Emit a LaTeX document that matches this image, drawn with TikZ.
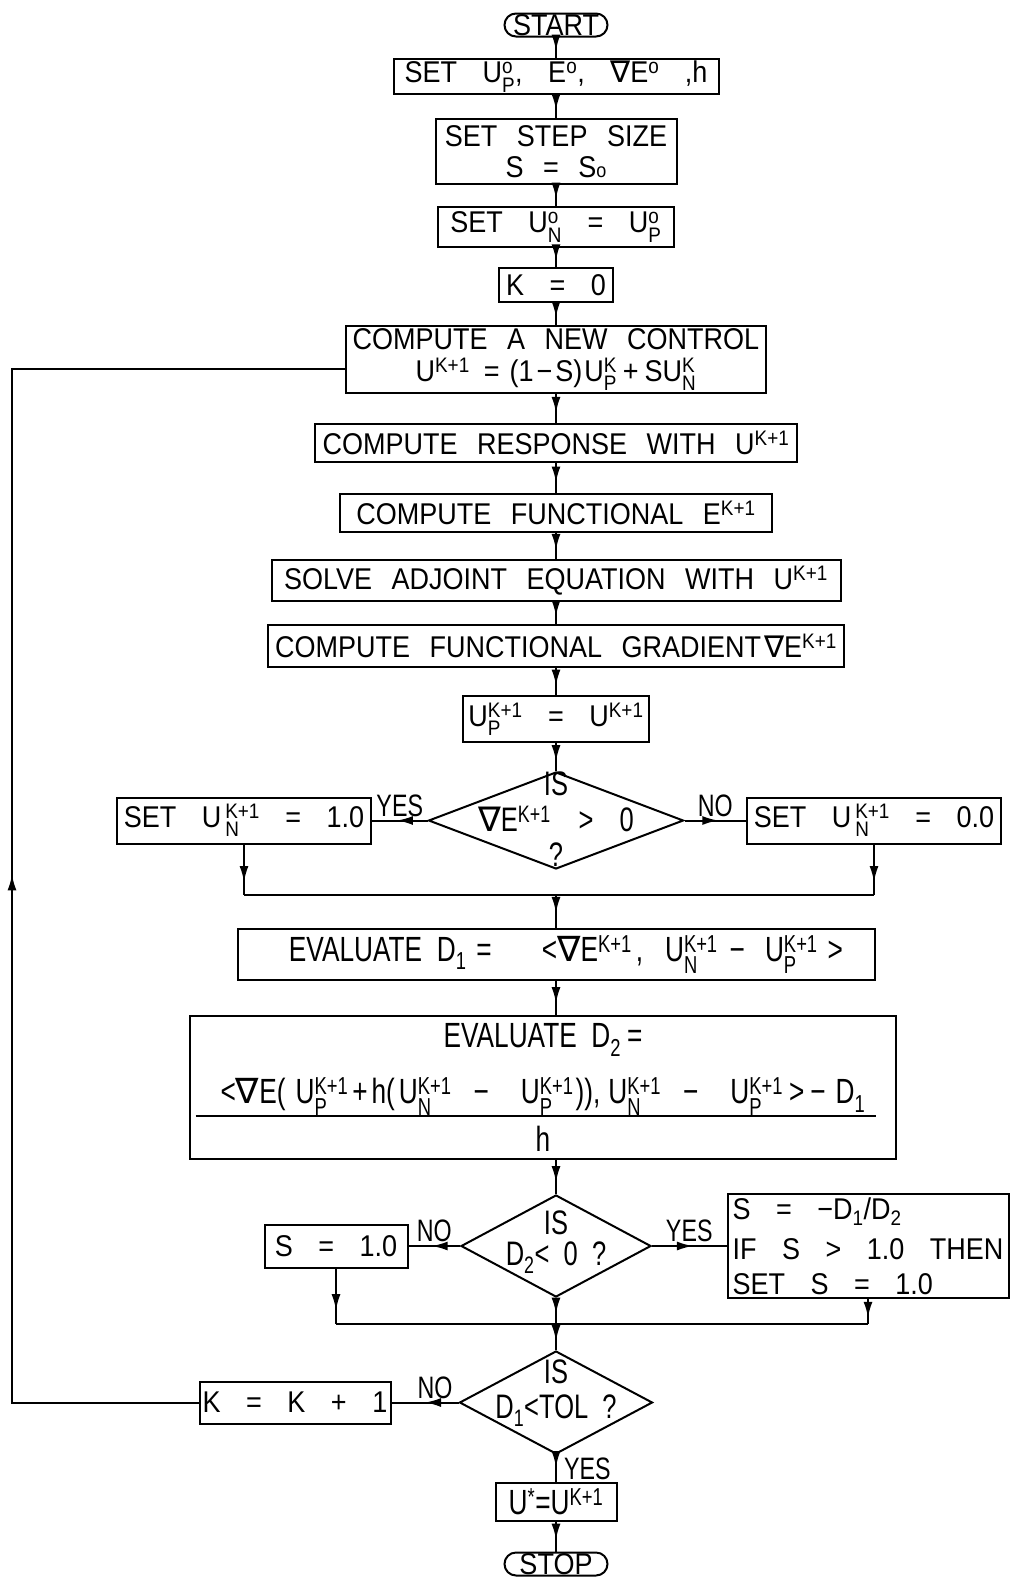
\documentclass[tikz,border=0pt]{standalone}
\usepackage{amsmath}
\usepackage{fontspec}
\setmainfont{Liberation Sans}[FakeStretch=0.9, WordSpace=2.6]
\newfontfamily\widefont{Liberation Sans}[FakeStretch=0.9, WordSpace=3.4]
\newfontfamily\narrowfont{Liberation Sans}[FakeStretch=0.75, WordSpace=2.0]
\newfontfamily\symfont{DejaVu Sans}
\usepackage{tikz}
\usetikzlibrary{shapes.geometric, arrows.meta, decorations.markings}

\newcommand{\sx}[2]{$^{\text{#2}}_{\text{#1}}$}
\newcommand{\supx}[1]{$^{\text{#1}}$}
\newcommand{\subx}[1]{$_{\text{#1}}$}
\newcommand{\nab}{{\symfont ∇}}
\newcommand{\mns}{−}
\newcommand{\dtext}[2][-10pt]{\smash{\raisebox{#1}{\makebox[0pt]{\begin{tabular}{@{}c@{}}#2\end{tabular}}}}}

\begin{document}
\begin{tikzpicture}[line width=2pt, node distance=75pt]
        % Define block styles
        \tikzstyle{block} = [rectangle, draw, inner sep=2pt, align=center, font=\fontsize{30}{36}\selectfont]
        \tikzstyle{wideblock} = [block, font=\fontsize{30}{36}\widefont]
        \tikzstyle{narrowblock} = [block, font=\fontsize{35}{40}\narrowfont]
        \tikzstyle{terminal} = [block, rounded corners=11.5pt, inner sep=0pt, minimum width=103pt, minimum height=23pt]
        \tikzstyle{decision} = [diamond, draw, inner sep=0pt, font=\fontsize{34}{35}\narrowfont]
        \tikzstyle{answer} = [inner sep=3pt, font=\fontsize{31}{32}\narrowfont]
        \tikzstyle{flow}[0.65] = [draw, decoration={markings, mark=at position #1 with {\arrow{Latex[length=16pt,width=9pt]}}}, postaction={decorate}]

        \useasboundingbox (0,0) rectangle (1011pt,-1580pt);

        % Main column
        \node (start) [terminal] at (556pt,-25pt) {START};
        \node (setinit) [wideblock, below of=start, node distance=51.5pt, minimum width=325pt, minimum height=35pt] {SET U\sx{P}{o}, E\supx{o}, \nab E\supx{o} ,h};
        \node (stepsize) [block, below of=setinit, node distance=75pt, minimum width=241pt, minimum height=65pt, font=\fontsize{30}{31}\selectfont] {SET STEP SIZE\\S = S{\fontsize{20}{20}\selectfont o}};
        \node (setnom) [wideblock, below of=stepsize, node distance=75.5pt, minimum width=236pt, minimum height=40pt] {SET U\sx{N}{o} = U\sx{P}{o}};
        \node (kzero) [wideblock, below of=setnom, node distance=58pt, minimum width=114pt, minimum height=34pt] {K = 0};
        \node (newctrl) [block, below of=kzero, node distance=74.5pt, minimum width=420pt, minimum height=67pt, font=\fontsize{30}{32}\selectfont] {COMPUTE A NEW CONTROL\\U\supx{K+1}\hspace{14pt}=\hspace{10pt}(1\hspace{3pt}\mns\hspace{3pt}S)\hspace{2pt}U\sx{P}{K}\hspace{6pt}+\hspace{6pt}SU\sx{N}{K}};
        \node (response) [block, below of=newctrl, node distance=83.5pt, minimum width=482pt, minimum height=38pt] {COMPUTE RESPONSE WITH U\supx{K+1}};
        \node (functional) [block, below of=response, node distance=70pt, minimum width=432pt, minimum height=38pt] {COMPUTE FUNCTIONAL E\supx{K+1}};
        \node (adjoint) [block, below of=functional, node distance=67.5pt, minimum width=569pt, minimum height=41pt] {SOLVE ADJOINT EQUATION WITH U\supx{K+1}};
        \node (gradient) [block, below of=adjoint, node distance=65.5pt, minimum width=576pt, minimum height=42pt] {COMPUTE FUNCTIONAL GRADIENT\hspace{3pt}\nab E\supx{K+1}};
        \node (update) [wideblock, below of=gradient, node distance=73pt, minimum width=186pt, minimum height=46pt] {U\sx{P}{K+1} = U\supx{K+1}};
        \node (isgrad) [decision, below of=update, node distance=101.5pt, minimum width=255pt, minimum height=97pt] {\dtext{IS\\\nab E\supx{K+1}\hspace{28pt}>\hspace{26pt}0\\?}};

        % First branch
        \node (setone) [wideblock, left of=isgrad, node distance=312pt, minimum width=254pt, minimum height=46pt] {SET U\hspace{4pt}\sx{N}{K+1} = 1.0};
        \node (setzero) [wideblock, right of=isgrad, node distance=318pt, minimum width=254pt, minimum height=46pt] {SET U\hspace{4pt}\sx{N}{K+1} = 0.0};
        \coordinate [below of=isgrad, node distance=74pt] (joinone);

        \node (evalone) [narrowblock, below of=isgrad, node distance=134pt, minimum width=637pt, minimum height=51pt] {\hspace*{20pt}EVALUATE D\subx{1}\hspace{10pt}=\hspace{50pt}<\nab E\supx{K+1}\hspace{4pt},\hspace{22pt}U\sx{N}{K+1}\hspace{12pt}\mns\hspace{20pt}U\sx{P}{K+1}\hspace{10pt}>};
        \node (evaltwo) [narrowblock, below of=evalone, node distance=133pt, xshift=-13pt, minimum width=706pt, minimum height=143pt, font=\fontsize{35}{36}\narrowfont] {EVALUATE D\subx{2}\hspace{6pt}=\\[20pt]
            <\nab E(\hspace{10pt}U\sx{P}{K+1}\hspace{4pt}+\hspace{4pt}h(\hspace{4pt}U\sx{N}{K+1}\hspace{22pt}\mns\hspace{32pt}U\sx{P}{K+1}\hspace{2pt})),\hspace{8pt}U\sx{N}{K+1}\hspace{22pt}\mns\hspace{32pt}U\sx{P}{K+1}\hspace{6pt}>\hspace{6pt}\mns\hspace{10pt}D\subx{1}\\[9pt]
            \makebox[0pt]{\smash{\raisebox{34pt}{\rule{680pt}{2pt}}}}h};

        % Second branch
        \node (isdtwo) [decision, below of=evaltwo, node distance=158.5pt, xshift=13pt, minimum width=190pt, minimum height=102pt] {\dtext[-3pt]{IS\\[-4pt]D\subx{2}< 0 ?}};
        \node (sone) [wideblock, left of=isdtwo, node distance=220pt, minimum width=143pt, minimum height=43pt] {S = 1.0};
        \node (sratio) [wideblock, right of=isdtwo, node distance=312pt, minimum width=281pt, minimum height=104pt, align=left, font=\fontsize{30}{35}\widefont] {S = \mns D\subx{1}/D\subx{2}\\[5pt]IF S > 1.0 THEN\\SET S = 1.0};
        \coordinate [below of=isdtwo, node distance=78pt] (jointwo);

        % Convergence test
        \node (istol) [decision, below of=isdtwo, node distance=156.5pt, minimum width=193pt, minimum height=103pt] {\dtext[2pt]{IS\\D\subx{1}<TOL ?}};
        \node (kinc) [wideblock, left of=istol, node distance=261pt, minimum width=191pt, minimum height=42pt] {K = K + 1};
        \node (optimum) [narrowblock, below of=istol, node distance=99.5pt, minimum width=121pt, minimum height=38pt] {U\supx{*}=U\supx{K+1}};
        \node (stop) [terminal, below of=optimum, node distance=62pt] {STOP};
        \coordinate (loopedge) at (12pt,0);

        % Arrows
        \draw [flow] (start) -- (setinit);
        \draw [flow] (setinit) -- (stepsize);
        \draw [flow] (stepsize) -- (setnom);
        \draw [flow] (setnom) -- (kzero);
        \draw [flow] (kzero) -- (newctrl);
        \draw [flow] (newctrl) -- (response);
        \draw [flow] (response) -- (functional);
        \draw [flow] (functional) -- (adjoint);
        \draw [flow] (adjoint) -- (gradient);
        \draw [flow] (gradient) -- (update);
        \draw [flow] (update) -- (isgrad);
        \draw [flow=0.55] (isgrad.west) -- node[answer, above] {YES} (isgrad.west -| setone.east);
        \draw [flow=0.55] (isgrad.east) -- node[answer, above] {NO} (isgrad.east -| setzero.west);
        \draw [flow=0.75] (setone) -- (setone |- joinone);
        \draw [flow=0.75] (setzero) -- (setzero |- joinone);
        \draw (setone |- joinone) -- (setzero |- joinone);
        \draw [flow=0.55] (joinone) -- (evalone);
        \draw [flow] (evalone) -- (evalone |- evaltwo.north);
        \draw [flow] (isdtwo |- evaltwo.south) -- (isdtwo);
        \draw [flow=0.55] (isdtwo.west) -- node[answer, above] {NO} (isdtwo.west -| sone.east);
        \draw [flow=0.55] (isdtwo.east) -- node[answer, above] {YES} (isdtwo.east -| sratio.west);
        \draw [flow=0.75] (sone) -- (sone |- jointwo);
        \draw [flow=0.75] (sratio) -- (sratio |- jointwo);
        \draw (sone |- jointwo) -- (sratio |- jointwo);
        \draw [flow=0.6] (isdtwo) -- (jointwo);
        \draw [flow] (jointwo) -- (istol);
        \draw [flow=0.5] (istol.west) -- node[answer, above, pos=0.35] {NO} (istol.west -| kinc.east);
        \draw [flow=0.45] (istol) -- node[answer, right, xshift=4pt] {YES} (optimum);
        \draw [flow=0.6] (optimum) -- (stop);
        % Feedback loop
        \draw [flow=0.46] (kinc) -- (kinc -| loopedge) |- ([yshift=-9pt]newctrl.west);
    \end{tikzpicture}
\end{document}
